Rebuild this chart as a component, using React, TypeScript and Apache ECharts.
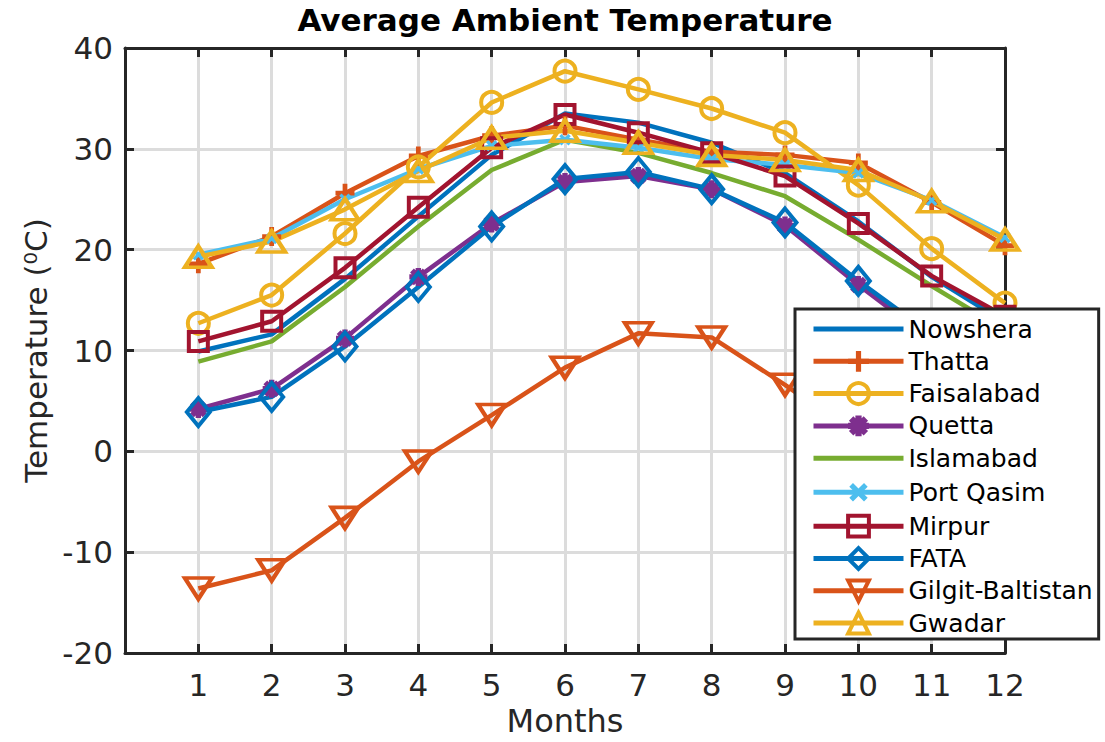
import React, { useEffect, useRef } from 'react';
import * as echarts from 'echarts';

const months = [1, 2, 3, 4, 5, 6, 7, 8, 9, 10, 11, 12];
const xTickLabels = ['1', '2', '3', '4', '5', '6', '7', '8', '9', '10', '11', '12'];
const yTicks = [-20, -10, 0, 10, 20, 30, 40];

const nowshera = [9.9, 11.6, 17.1, 23.3, 29.4, 33.5, 32.6, 30.6, 27.6, 22.8, 17.3, 12.8];
const thatta = [18.6, 21.3, 25.6, 29.3, 31.3, 32.3, 30.9, 29.7, 29.4, 28.6, 24.7, 20.4];
const faisalabad = [12.7, 15.5, 21.6, 28.2, 34.6, 37.7, 35.9, 34.0, 31.6, 26.4, 20.1, 14.7];
const quetta = [4.2, 6.2, 11.2, 17.3, 22.6, 26.7, 27.3, 26.0, 22.4, 16.5, 11.0, 6.0];
const islamabad = [8.9, 10.9, 16.3, 22.3, 27.9, 30.9, 29.6, 27.6, 25.3, 21.0, 16.4, 12.0];
const portQasim = [19.5, 21.1, 25.0, 28.0, 30.3, 30.9, 30.1, 29.0, 28.4, 27.6, 24.9, 21.2];
const mirpur = [10.9, 12.9, 18.2, 24.2, 30.1, 33.4, 31.6, 29.6, 27.3, 22.6, 17.4, 13.4];
const fata = [3.9, 5.4, 10.4, 16.3, 22.3, 27.0, 27.7, 26.0, 22.7, 16.9, 11.6, 6.6];
const gilgitBaltistan = [-13.6, -11.8, -6.6, -1.0, 3.6, 8.3, 11.7, 11.3, 6.6, 1.5, -5.0, -10.5];
const gwadar = [19.3, 20.8, 24.0, 27.8, 31.1, 31.8, 30.6, 29.4, 28.9, 27.9, 24.8, 21.0];

const seriesNames = [
  'Nowshera', 'Thatta', 'Faisalabad', 'Quetta', 'Islamabad',
  'Port Qasim', 'Mirpur', 'FATA', 'Gilgit-Baltistan', 'Gwadar',
];
const seriesValues = [
  nowshera, thatta, faisalabad, quetta, islamabad,
  portQasim, mirpur, fata, gilgitBaltistan, gwadar,
];

const FONT = '"DejaVu Sans", sans-serif';
const AX = '#262626';

const PLUS = 'path://M-2.5,-10H2.5V-2.5H10V2.5H2.5V10H-2.5V2.5H-10V-2.5H-2.5Z';
const STAR =
  'path://M-3,-10H3V-3H10V3H3V10H-3V3H-10V-3H-3Z' +
  'M4.95,-9.19L9.19,-4.95L4.24,0L9.19,4.95L4.95,9.19L0,4.24L-4.95,9.19L-9.19,4.95L-4.24,0L-9.19,-4.95L-4.95,-9.19L0,-4.24Z';

type Style = {
  color: string;
  symbol: string;
  size?: number | number[];
  rotate?: number;
  filled?: boolean;
};

const styles: Style[] = [
  { color: '#0072BD', symbol: 'none' },
  { color: '#D95319', symbol: PLUS, size: 19, filled: true },
  { color: '#EDB120', symbol: 'circle', size: 21 },
  { color: '#7E2F8E', symbol: STAR, size: 18, filled: true },
  { color: '#77AC30', symbol: 'none' },
  { color: '#4DBEEE', symbol: PLUS, size: 13, rotate: 45, filled: true },
  { color: '#A2142F', symbol: 'rect', size: 19 },
  { color: '#0072BD', symbol: 'diamond', size: [23, 28] },
  { color: '#D95319', symbol: 'triangle', size: [27, 21], rotate: 180 },
  { color: '#EDB120', symbol: 'triangle', size: [27, 21] },
];

export default function App() {
  const ref = useRef<HTMLDivElement>(null);

  useEffect(() => {
    if (!ref.current) return;
    const chart = echarts.init(ref.current, undefined, { renderer: 'svg' });

    const series = seriesNames.map((name, i) => {
      const st = styles[i];
      const none = st.symbol === 'none';
      return {
        name,
        type: 'line',
        data: months.map((m, j) => [m, seriesValues[i][j]]),
        symbol: st.symbol,
        showSymbol: !none,
        symbolSize: st.size ?? 0,
        symbolRotate: st.rotate ?? 0,
        symbolKeepAspect: false,
        lineStyle: { color: st.color, width: 4.5 },
        itemStyle: st.filled
          ? { color: st.color, borderColor: st.color, borderWidth: 0 }
          : { color: 'rgba(255,255,255,0)', borderColor: st.color, borderWidth: 4 },
        emphasis: { disabled: true },
        silent: true,
        z: 3,
      };
    });

    const legendData = seriesNames.map((name, i) => {
      const st = styles[i];
      if (st.symbol === 'none') {
        return { name, itemStyle: { color: 'rgba(255,255,255,0)', borderWidth: 0, opacity: 0 } };
      }
      return {
        name,
        itemStyle: st.filled
          ? { color: st.color, borderColor: st.color, borderWidth: 0 }
          : { color: 'rgba(255,255,255,0)', borderColor: st.color, borderWidth: 4 },
      };
    });

    const axisCommon = {
      axisLine: { show: true, onZero: false, lineStyle: { color: AX, width: 3 } },
      axisTick: { show: true, inside: true, length: 9, lineStyle: { color: AX, width: 3 } },
    };

    const option = {
      animation: false,
      backgroundColor: '#ffffff',
      title: {
        text: 'Average Ambient Temperature',
        left: 565,
        top: 4,
        textAlign: 'center',
        padding: 0,
        textStyle: { fontFamily: FONT, fontWeight: 'bold', fontSize: 31, color: '#000000' },
      },
      grid: { left: 125, right: 100, top: 48, bottom: 86, containLabel: false },
      xAxis: [
        {
          type: 'value',
          min: 0,
          max: 12,
          interval: 1,
          position: 'bottom',
          name: 'Months',
          nameLocation: 'middle',
          nameGap: 52,
          nameTextStyle: { fontFamily: FONT, fontSize: 32, color: AX },
          ...axisCommon,
          axisLabel: {
            fontFamily: FONT,
            fontSize: 31,
            color: AX,
            margin: 16,
            formatter: (v: number) => {
              const idx = months.indexOf(v);
              return idx >= 0 ? xTickLabels[idx] : '';
            },
          },
          splitLine: { show: true, lineStyle: { color: '#dcdcdc', width: 3 } },
        },
        {
          type: 'value',
          min: 0,
          max: 12,
          interval: 1,
          position: 'top',
          ...axisCommon,
          axisLabel: { show: false },
          splitLine: { show: false },
        },
      ],
      yAxis: [
        {
          type: 'value',
          min: yTicks[0],
          max: yTicks[yTicks.length - 1],
          interval: 10,
          position: 'left',
          name: 'Temperature (⁰C)',
          nameLocation: 'middle',
          nameGap: 74,
          nameTextStyle: { fontFamily: FONT, fontSize: 31, color: AX },
          ...axisCommon,
          axisLabel: { fontFamily: FONT, fontSize: 31, color: AX, margin: 12 },
          splitLine: { show: true, lineStyle: { color: '#dcdcdc', width: 3 } },
        },
        {
          type: 'value',
          min: yTicks[0],
          max: yTicks[yTicks.length - 1],
          interval: 10,
          position: 'right',
          ...axisCommon,
          axisLabel: { show: false },
          splitLine: { show: false },
        },
      ],
      legend: {
        orient: 'vertical',
        left: 795,
        top: 309,
        itemWidth: 90,
        itemHeight: 26,
        itemGap: 6.3,
        padding: [7, 6, 3, 16],
        backgroundColor: '#ffffff',
        borderColor: AX,
        borderWidth: 3,
        borderRadius: 0,
        selectedMode: false,
        textStyle: { fontFamily: FONT, fontSize: 25, color: '#000000', lineHeight: 26 },
        itemStyle: { borderWidth: 'inherit' },
        lineStyle: { width: 5 },
        data: legendData,
        z: 10,
      },
      series,
    };

    chart.setOption(option as any);
    return () => chart.dispose();
  }, []);

  return (
    <div
      ref={ref}
      style={{ position: 'absolute', left: 0, top: 0, width: 1105, height: 742, background: '#fff' }}
    />
  );
}
